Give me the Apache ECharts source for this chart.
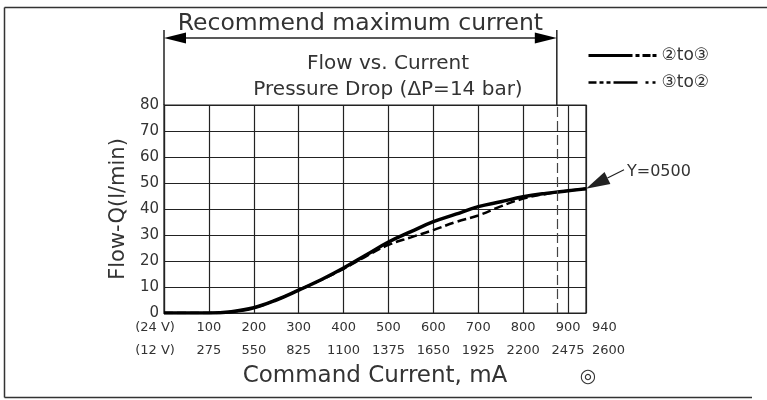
<!DOCTYPE html>
<html>
<head>
<meta charset="utf-8">
<script src="https://cdn.jsdelivr.net/npm/echarts@6/dist/echarts.min.js"></script>
<style>html,body{margin:0;padding:0;background:#fff}#c{width:767px;height:400px}</style>
</head>
<body>
<div id="c"></div>
<script>
// ---- data ----
const currentMA = [0,50,100,150,200,250,300,350,400,450,500,550,600,650,700,750,800,850,900,940];
const flow2to3 = [0,0,0,0.5,2,5,8.8,12.8,17.3,22.3,27.3,31.3,35.1,38,40.9,42.8,44.7,46,47,47.8];
const flow3to2 = [0,0,0,0.5,2,5,8.8,12.7,17,21.8,26.2,29.1,31.9,35,37.5,41,44,45.8,47,47.8];
const xTicks = [0,100,200,300,400,500,600,700,800,900,940];
const labels24V = ['(24 V)','100','200','300','400','500','600','700','800','900','940'];
const labels12V = ['(12 V)','275','550','825','1100','1375','1650','1925','2200','2475','2600'];
const recommendedMaxMA = 875;
const annotationPoint = [940, 47.8];

const FONT = 'DejaVu Sans';
const TXT = '#333';
const chart = echarts.init(document.getElementById('c'));

chart.setOption({
  animation: false,
  title: {
    text: 'Flow vs. Current\nPressure Drop (ΔP=14 bar)',
    left: 383, top: 46, textAlign: 'center',
    textStyle: {fontFamily: FONT, fontSize: 20, fontWeight: 'normal', color: TXT, lineHeight: 26}
  },
  legend: {
    orient: 'vertical', left: 582, top: 42, itemWidth: 68, itemHeight: 14, itemGap: 10,
    textStyle: {fontFamily: FONT, fontSize: 17, color: TXT},
    itemStyle: {opacity: 0},
    data: [
      {name: '②to③', lineStyle: {type: [44,3,4,3,8,2], width: 3, color: '#000'}, itemStyle: {opacity: 0}},
      {name: '③to②', lineStyle: {type: [8,3,4,3,4,3,24], width: 2.5, color: '#000'}, itemStyle: {opacity: 0}}
    ]
  },
  grid: {left: 164, right: 181, top: 105, bottom: 87, show: true, borderColor: '#222', borderWidth: 1.2},
  xAxis: {
    type: 'value', min: 0, max: 940, interval: 100,
    name: 'Command Current, mA', nameLocation: 'middle', nameGap: 52,
    nameTextStyle: {fontFamily: FONT, fontSize: 23, color: TXT},
    axisLine: {lineStyle: {color: '#222', width: 1.2}},
    axisTick: {show: false},
    splitLine: {show: true, lineStyle: {color: '#222', width: 1.2}},
    axisLabel: {
      customValues: xTicks, margin: 3, showMaxLabel: true, showMinLabel: true, hideOverlap: false,
      alignMaxLabel: 'left',
      formatter: function (v) {
        const i = xTicks.indexOf(v);
        if (i < 0) return '';
        if (i === 0) return '{c|' + labels24V[i] + '}\n{c|' + labels12V[i] + '}';
        if (i === xTicks.length - 1) return '{e|' + labels24V[i] + '}\n{e|' + labels12V[i] + '}';
        return '{a|' + labels24V[i] + '}\n{a|' + labels12V[i] + '}';
      },
      rich: {
        a: {fontFamily: FONT, fontSize: 13, color: TXT, lineHeight: 23},
        c: {fontFamily: FONT, fontSize: 13, color: TXT, lineHeight: 23, padding: [0, 18, 0, 0]},
        e: {fontFamily: FONT, fontSize: 13, color: TXT, lineHeight: 23, padding: [0, 0, 0, 6]}
      }
    }
  },
  yAxis: {
    type: 'value', min: 0, max: 80, interval: 10,
    name: 'Flow-Q(l/min)', nameLocation: 'middle', nameGap: 28,
    nameTextStyle: {fontFamily: FONT, fontSize: 21, color: TXT},
    axisLine: {show: true, lineStyle: {color: '#222', width: 1.2}},
    axisTick: {show: false},
    splitLine: {show: true, lineStyle: {color: '#222', width: 1.2}},
    axisLabel: {fontFamily: FONT, fontSize: 15, color: TXT, margin: 5}
  },
  series: [
    {
      name: '③to②', type: 'line', smooth: 0.4, symbol: 'none', z: 3,
      data: currentMA.map((x, i) => [x, flow3to2[i]]),
      itemStyle: {color: '#000'},
      lineStyle: {color: '#000', width: 2.5, type: [9, 4]},
      markLine: {
        silent: true, symbol: 'none', label: {show: false},
        lineStyle: {color: '#444', width: 1.2, type: [10, 4]},
        data: [{xAxis: recommendedMaxMA}]
      }
    },
    {
      name: '②to③', type: 'line', smooth: 0.4, symbol: 'none', z: 4,
      data: currentMA.map((x, i) => [x, flow2to3[i]]),
      itemStyle: {color: '#000'},
      lineStyle: {color: '#000', width: 3.5}
    }
  ]
});

// ---- annotations positioned via the axis scales ----
const x0 = chart.convertToPixel({xAxisIndex: 0}, 0);
const x1 = chart.convertToPixel({xAxisIndex: 0}, recommendedMaxMA);
const tip = chart.convertToPixel({seriesIndex: 1}, annotationPoint);
const by = 38;
const ah = 22, aw = 5.5;
const tx = tip[0] + 38, ty = tip[1] - 19;
const dx = tx - tip[0], dy = ty - tip[1];
const len = Math.sqrt(dx*dx + dy*dy), ux = dx/len, uy = dy/len;
const bx = tip[0] + ux*24, byy = tip[1] + uy*24;
const LS = {stroke: '#222', lineWidth: 1.5};

chart.setOption({
  graphic: [
    {type: 'line', shape: {x1: 4.5, y1: 7.5, x2: 767, y2: 7.5}, style: {stroke: '#333', lineWidth: 1.5}},
    {type: 'line', shape: {x1: 4.5, y1: 7.5, x2: 4.5, y2: 397.5}, style: {stroke: '#333', lineWidth: 1.5}},
    {type: 'line', shape: {x1: 4.5, y1: 397.5, x2: 752, y2: 397.5}, style: {stroke: '#333', lineWidth: 1.5}},
    {type: 'line', shape: {x1: x0, y1: 30, x2: x0, y2: 105}, style: LS},
    {type: 'line', shape: {x1: x1, y1: 30, x2: x1, y2: 105}, style: LS},
    {type: 'line', shape: {x1: x0 + 5, y1: by, x2: x1 - 5, y2: by}, style: LS},
    {type: 'polygon', shape: {points: [[x0, by], [x0 + ah, by - aw], [x0 + ah, by + aw]]}, style: {fill: '#000'}},
    {type: 'polygon', shape: {points: [[x1, by], [x1 - ah, by - aw], [x1 - ah, by + aw]]}, style: {fill: '#000'}},
    {type: 'text', x: (x0 + x1) / 2, y: 24, style: {text: 'Recommend maximum current', fontFamily: FONT, fontSize: 23.5, fill: TXT, align: 'center', verticalAlign: 'middle'}},
    {type: 'line', shape: {x1: bx, y1: byy, x2: tx, y2: ty}, style: {stroke: '#222', lineWidth: 1.2}},
    {type: 'polygon', shape: {points: [[tip[0], tip[1]], [bx - uy*aw*1.2, byy + ux*aw*1.2], [bx + uy*aw*1.2, byy - ux*aw*1.2]]}, style: {fill: '#222'}},
    {type: 'text', x: tx + 3, y: ty + 2, style: {text: 'Y=0500', fontFamily: FONT, fontSize: 16, fill: TXT, align: 'left', verticalAlign: 'middle'}},
    {type: 'text', x: 588, y: 377, style: {text: '◎', fontFamily: FONT, fontSize: 19, fill: TXT, align: 'center', verticalAlign: 'middle'}}
  ]
});
</script>
</body>
</html>
